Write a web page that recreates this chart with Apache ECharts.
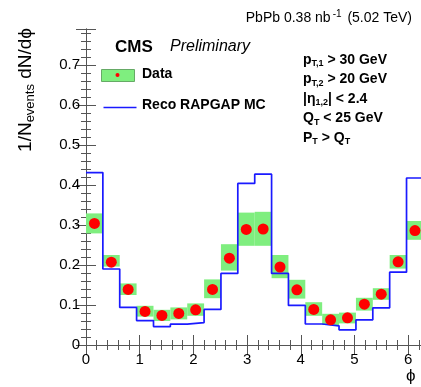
<!DOCTYPE html>
<html>
<head>
<meta charset="utf-8">
<script src="https://cdn.jsdelivr.net/npm/echarts@6/dist/echarts.min.js"></script>
<style>
  html, body { margin: 0; padding: 0; background: #fff; }
  #main { width: 421px; height: 387px; }
</style>
</head>
<body>
<div id="main"></div>
<script>
// bin edges in phi (20 bins over 0..2pi)
const binEdges = [0, 0.314, 0.628, 0.942, 1.257, 1.571, 1.885, 2.199, 2.513, 2.827, 3.142,
  3.456, 3.770, 4.084, 4.398, 4.712, 5.027, 5.341, 5.655, 5.969, 6.283];

// data points and their uncertainty boxes
const dataValues = [0.304, 0.207, 0.139, 0.084, 0.074, 0.079, 0.088, 0.139, 0.217, 0.289,
  0.290, 0.195, 0.138, 0.089, 0.063, 0.068, 0.102, 0.127, 0.208, 0.286];
const boxLow = [0.279, 0.196, 0.125, 0.071, 0.060, 0.064, 0.073, 0.117, 0.186, 0.248,
  0.248, 0.167, 0.116, 0.073, 0.050, 0.054, 0.086, 0.113, 0.191, 0.263];
const boxHigh = [0.329, 0.225, 0.154, 0.098, 0.088, 0.094, 0.104, 0.164, 0.252, 0.331,
  0.333, 0.225, 0.163, 0.107, 0.078, 0.081, 0.118, 0.142, 0.225, 0.310];

// Reco RAPGAP MC histogram
const mcValues = [0.431, 0.190, 0.094, 0.061, 0.046, 0.052, 0.056, 0.089, 0.179, 0.404,
  0.427, 0.179, 0.099, 0.0525, 0.048, 0.038, 0.063, 0.093, 0.182, 0.4175];

const xMax = 6.2832;
const yMax = 0.79;

const font = '"Liberation Sans", Arial, sans-serif';
const axisColor = '#555';

const boxData = dataValues.map((v, i) => [binEdges[i], binEdges[i + 1], boxLow[i], boxHigh[i]]);
const pointData = dataValues.map((v, i) => [(binEdges[i] + binEdges[i + 1]) / 2, v]);
const mcData = mcValues.map((v, i) => [binEdges[i], v]);
mcData.push([binEdges[binEdges.length - 1], mcValues[mcValues.length - 1]]);

const chart = echarts.init(document.getElementById('main'), null, { renderer: 'canvas' });

const tickCommon = {
  axisLine: { show: true, lineStyle: { color: axisColor, width: 1 } },
  axisTick: { show: true, inside: true, length: 10, lineStyle: { color: axisColor } },
  minorTick: { show: true, splitNumber: 5, length: 5, lineStyle: { color: axisColor } },
  splitLine: { show: false },
};

const option = {
  animation: false,
  backgroundColor: '#fff',
  grid: {
    left: 86, top: 29, width: 337.4, height: 316,
    containLabel: false, outerBoundsMode: 'none',
  },
  xAxis: [
    Object.assign({
      type: 'value', min: 0, max: xMax, interval: 1,
      axisLabel: {
        color: '#000', fontFamily: font, fontSize: 15, margin: 7,
        showMaxLabel: false, formatter: (v) => String(v),
      },
    }, tickCommon),
    Object.assign({
      type: 'value', position: 'top', min: 0, max: xMax, interval: 1,
      axisLabel: { show: false },
    }, tickCommon),
  ],
  yAxis: [
    Object.assign({
      type: 'value', min: 0, max: yMax, interval: 0.1,
      axisLabel: {
        color: '#000', fontFamily: font, fontSize: 15, margin: 6,
        showMaxLabel: false, formatter: (v) => (v === 0 ? '0' : v.toFixed(1)),
      },
    }, tickCommon),
    Object.assign({
      type: 'value', position: 'right', min: 0, max: yMax, interval: 0.1,
      axisLabel: { show: false },
    }, tickCommon),
  ],
  series: [
    {
      type: 'custom',
      z: 1,
      data: boxData,
      silent: true,
      renderItem: (params, api) => {
        const p0 = api.coord([api.value(0), api.value(3)]);
        const p1 = api.coord([api.value(1), api.value(2)]);
        return {
          type: 'rect',
          shape: { x: p0[0], y: p0[1], width: p1[0] - p0[0], height: p1[1] - p0[1] },
          style: { fill: '#7fee7f' },
        };
      },
    },
    {
      type: 'line',
      z: 2,
      step: 'end',
      data: mcData,
      showSymbol: false,
      lineStyle: { color: '#1a1aff', width: 1.7 },
    },
    {
      type: 'scatter',
      z: 3,
      data: pointData,
      symbol: 'circle',
      symbolSize: 11,
      itemStyle: { color: '#ff0000', opacity: 1 },
    },
  ],
  graphic: [
    {
      type: 'text', right: 9, top: 9,
      style: {
        text: 'PbPb 0.38 nb{sup|-1} (5.02 TeV)',
        font: '14px ' + font, fill: '#000',
        rich: { sup: { fontSize: 10, fontFamily: font, verticalAlign: 'top', padding: [0, 2, 8, 2] } },
      },
    },
    {
      type: 'text', left: 16, top: 28, rotation: Math.PI / 2, originX: 0, originY: 0,
      style: {
        text: '1/N{sub|events} dN/d\u03d5',
        font: '19px ' + font, fill: '#000',
        align: 'right', verticalAlign: 'top',
        rich: { sub: { fontSize: 13, fontFamily: font, padding: [9, 0, 0, 0] } },
      },
    },
    {
      type: 'text', left: 406, top: 368,
      style: { text: '\u03d5', font: '17px ' + font, fill: '#000' },
    },
    {
      type: 'text', left: 115, top: 39,
      style: { text: 'CMS', font: 'bold 17px ' + font, fill: '#000' },
    },
    {
      type: 'text', left: 170, top: 39,
      style: { text: 'Preliminary', font: 'italic 16px ' + font, fill: '#000' },
    },
    {
      type: 'rect', left: 101, top: 69,
      shape: { width: 33, height: 12 },
      style: { fill: '#7fee7f', stroke: '#66aa66', lineWidth: 1 },
    },
    {
      type: 'circle', left: 115.5, top: 73,
      shape: { r: 2 },
      style: { fill: '#ff0000' },
    },
    {
      type: 'text', left: 142, top: 67,
      style: { text: 'Data', font: 'bold 14px ' + font, fill: '#000' },
    },
    {
      type: 'line', left: 101, top: 105,
      shape: { x1: 0, y1: 0, x2: 33, y2: 0 },
      style: { stroke: '#1a1aff', lineWidth: 1.5 },
    },
    {
      type: 'text', left: 142, top: 98,
      style: { text: 'Reco RAPGAP MC', font: 'bold 14px ' + font, fill: '#000' },
    },
    {
      type: 'text', left: 303, top: 50,
      style: {
        text: 'p{sub|T,1} > 30 GeV\np{sub|T,2} > 20 GeV\n|\u03b7{sub|1,2}| < 2.4\nQ{sub|T} < 25 GeV\nP{sub|T} > Q{sub|T}',
        font: 'bold 14px ' + font, fill: '#000', lineHeight: 19.5,
        rich: { sub: { fontSize: 9, fontWeight: 'bold', fontFamily: font, padding: [8, 0, 0, 0] } },
      },
    },
  ],
};

chart.setOption(option);
</script>
</body>
</html>
